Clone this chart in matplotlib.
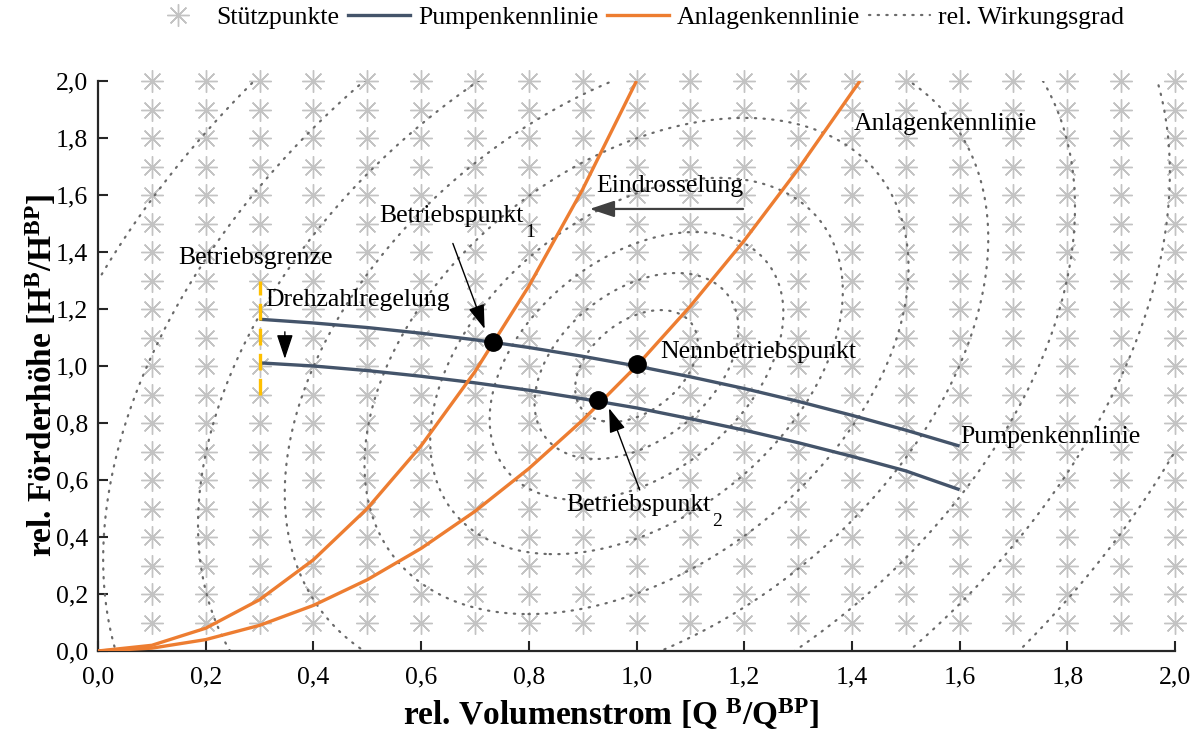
import numpy as np
import matplotlib
matplotlib.use("Agg")
import matplotlib.pyplot as plt
from matplotlib.lines import Line2D
from matplotlib.ticker import FuncFormatter, MultipleLocator

plt.rcParams['font.family'] = ['Liberation Serif', 'DejaVu Serif']
plt.rcParams['mathtext.fontset'] = 'custom'
plt.rcParams['mathtext.rm'] = 'Liberation Serif'
plt.rcParams['mathtext.it'] = 'Liberation Serif:italic'
plt.rcParams['mathtext.bf'] = 'Liberation Serif:bold'

# ---------------- data ----------------
# support points (grid of asterisks)
grid_q = [0.1, 0.2, 0.3, 0.4, 0.5, 0.6, 0.7, 0.8, 0.9, 1.0,
          1.1, 1.2, 1.3, 1.4, 1.5, 1.6, 1.7, 1.8, 1.9, 2.0]
grid_h = [0.1, 0.2, 0.3, 0.4, 0.5, 0.6, 0.7, 0.8, 0.9, 1.0,
          1.1, 1.2, 1.3, 1.4, 1.5, 1.6, 1.7, 1.8, 1.9, 2.0]

# system curves (Anlagenkennlinien)
sys1_q = [0.0, 0.1, 0.2, 0.3, 0.4, 0.5, 0.6, 0.7, 0.8, 0.9, 1.0]
sys1_h = [0.0, 0.02, 0.08, 0.18, 0.32, 0.50, 0.72, 0.98, 1.28, 1.62, 2.0]
sys2_q = [0.0, 0.1, 0.2, 0.3, 0.4, 0.5, 0.6, 0.7, 0.8, 0.9, 1.0,
          1.1, 1.2, 1.3, 1.4, 1.415]
sys2_h = [0.0, 0.01, 0.04, 0.09, 0.16, 0.25, 0.36, 0.49, 0.64, 0.81, 1.0,
          1.21, 1.44, 1.69, 1.96, 2.0]

# pump curves (Pumpenkennlinien)
pump_q = [0.3, 0.4, 0.5, 0.6, 0.7, 0.8, 0.9, 1.0, 1.1, 1.2, 1.3, 1.4, 1.5, 1.6]
pump1_h = [1.164, 1.151, 1.135, 1.115, 1.092, 1.065, 1.034, 1.0, 0.962,
           0.921, 0.876, 0.827, 0.775, 0.719]
pump2_h = [1.011, 1.000, 0.984, 0.964, 0.941, 0.915, 0.885, 0.853, 0.815,
           0.775, 0.731, 0.683, 0.632, 0.566]

# operating points
op_q = [0.733, 1.0, 0.929]
op_h = [1.084, 1.007, 0.882]

# relative efficiency contours (ellipses around nominal point)
eff_center = (1.0, 1.0)
eff_shape = (2.97, -1.37, 1.0)   # coefficients of dQ^2, dQ*dH, dH^2
eff_levels = [0.0324, 0.0896, 0.186, 0.367, 0.638, 1.067, 1.658, 2.453, 3.47]

# operating limit
limit_q = [0.3, 0.3]
limit_h = [0.90, 1.30]

# ---------------- colours ----------------
c_pump = '#44546a'
c_sys = '#ed7d31'
c_grid = '#c3c3c3'
c_eff = '#6a6a6a'
c_limit = '#ffc000'

fig = plt.figure(figsize=(11.97, 7.38), dpi=100)
ax = fig.add_axes([98/1197, 1 - 651/738, (1175-98)/1197, (651-81)/738])

# asterisk grid
gq, gh = np.meshgrid(grid_q, grid_h)
ax.plot(gq.ravel(), gh.ravel(), linestyle='none', marker=(8, 2, 0),
        markersize=16, markeredgewidth=1.0, color=c_grid, clip_on=False,
        zorder=1)

# efficiency contours
qq = np.linspace(-0.1, 2.1, 700)
hh = np.linspace(-0.1, 2.1, 700)
Q, H = np.meshgrid(qq, hh)
dQ = Q - eff_center[0]
dH = H - eff_center[1]
Z = eff_shape[0]*dQ**2 + eff_shape[1]*dQ*dH + eff_shape[2]*dH**2
cs = ax.contour(Q, H, Z, levels=eff_levels, colors=c_eff, linewidths=1.6,
                linestyles=[(0, (0.6, 3.3))], zorder=2)
cs.set_capstyle('round')

# curves
ax.plot(sys1_q, sys1_h, color=c_sys, lw=2.4, zorder=4, solid_capstyle='butt')
ax.plot(sys2_q, sys2_h, color=c_sys, lw=2.4, zorder=4, solid_capstyle='butt')
ax.plot(pump_q, pump1_h, color=c_pump, lw=2.4, zorder=3, solid_capstyle='butt')
ax.plot(pump_q, pump2_h, color=c_pump, lw=2.4, zorder=3, solid_capstyle='butt')
ax.plot(limit_q, limit_h, color=c_limit, lw=2.4, dashes=(5, 2.5), zorder=5)
ax.plot(op_q, op_h, linestyle='none', marker='o', markersize=12.5,
        color='black', zorder=6)

# annotations
fs = 18.5
head = '-|>,head_length=1.5,head_width=0.5'
ax.text(1.404, 1.85, 'Anlagenkennlinie', fontsize=fs, va='center', ha='left')
ax.text(0.925, 1.63, 'Eindrosselung', fontsize=fs, va='center', ha='left')
ax.annotate('', xy=(0.913, 1.551), xytext=(1.198, 1.551),
            arrowprops=dict(arrowstyle=head, color='#404040', lw=1.6,
                            shrinkA=0, shrinkB=0))
t_bp1 = ax.text(0.522, 1.525, 'Betriebspunkt', fontsize=fs, va='center', ha='left')
ax.annotate('', xy=(0.718, 1.13), xytext=(0.659, 1.43),
            arrowprops=dict(arrowstyle=head, color='black', lw=1.0,
                            shrinkA=0, shrinkB=0))
ax.text(0.150, 1.38, 'Betriebsgrenze', fontsize=fs, va='center', ha='left')
ax.text(0.310, 1.232, 'Drehzahlregelung', fontsize=fs, va='center', ha='left')
ax.annotate('', xy=(0.347, 1.025), xytext=(0.347, 1.12),
            arrowprops=dict(arrowstyle=head, color='black', lw=1.0,
                            shrinkA=0, shrinkB=0))
ax.text(1.045, 1.049, 'Nennbetriebspunkt', fontsize=fs, va='center', ha='left')
ax.text(1.602, 0.751, 'Pumpenkennlinie', fontsize=fs, va='center', ha='left')
t_bp2 = ax.text(0.869, 0.512, 'Betriebspunkt', fontsize=fs, va='center', ha='left')
ax.annotate('', xy=(0.949, 0.852), xytext=(1.006, 0.565),
            arrowprops=dict(arrowstyle=head, color='black', lw=1.0,
                            shrinkA=0, shrinkB=0))

# axes styling
ax.set_xlim(0, 2.0)
ax.set_ylim(0, 2.0)
for s in ['top', 'right']:
    ax.spines[s].set_visible(False)
for s in ['left', 'bottom']:
    ax.spines[s].set_linewidth(1.6)
    ax.spines[s].set_color('#262626')
ax.xaxis.set_major_locator(MultipleLocator(0.2))
ax.yaxis.set_major_locator(MultipleLocator(0.2))
fmt = FuncFormatter(lambda v, p: f"{v:.1f}".replace('.', ','))
ax.xaxis.set_major_formatter(fmt)
ax.yaxis.set_major_formatter(fmt)
ax.tick_params(direction='in', length=7, width=1.5, color='#262626',
               labelsize=18.5, pad=7)
ax.tick_params(axis='x', pad=11)

ax.set_xlabel(r'rel. Volumenstrom [Q $^{\mathbf{B}}$/Q$^{\mathbf{BP}}$]',
              fontsize=24, fontweight='bold')
ax.set_ylabel(r'rel. Förderhöhe [H$^{\mathbf{B}}$/H$^{\mathbf{BP}}$]',
              fontsize=24, fontweight='bold')
ax.xaxis.set_label_coords(0.476, -0.079)
ax.yaxis.set_label_coords(-0.036, 0.484)

# legend
handles = [
    Line2D([], [], linestyle='none', marker=(8, 2, 0), markersize=16,
           markeredgewidth=1.0, color=c_grid),
    Line2D([], [], color=c_pump, lw=2.4),
    Line2D([], [], color=c_sys, lw=2.4),
    Line2D([], [], color=c_eff, lw=1.6, linestyle=(0, (0.6, 3.3)),
           dash_capstyle='round'),
]
labels = ['Stützpunkte', 'Pumpenkennlinie', 'Anlagenkennlinie', 'rel. Wirkungsgrad']
fig.legend(handles, labels, loc='center', bbox_to_anchor=(0.531, 1 - 18/738),
           ncol=4, frameon=False, fontsize=18.5, handlelength=2.4,
           handletextpad=0.3, columnspacing=0.35)

# subscripts placed after the operating point labels
fig.canvas.draw()
renderer = fig.canvas.get_renderer()
for t, sub in [(t_bp1, '1'), (t_bp2, '2')]:
    bb = t.get_window_extent(renderer)
    fig.text((bb.x1 + 2) / fig.bbox.width, (bb.y0 - 5) / fig.bbox.height, sub,
             fontsize=14, ha='left', va='center')

fig.savefig('out.png', dpi=100)
